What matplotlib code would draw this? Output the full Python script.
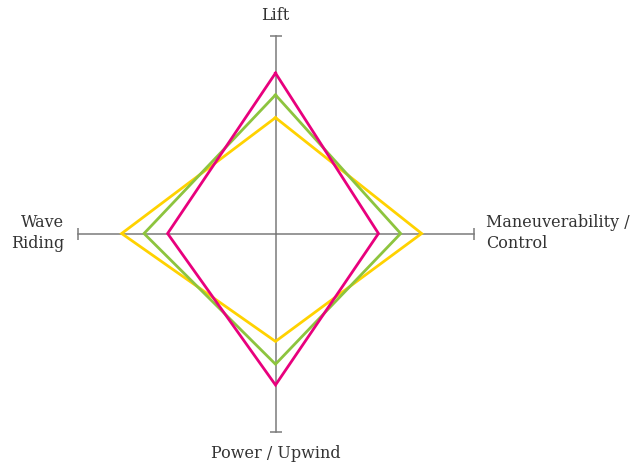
import numpy as np
import matplotlib
matplotlib.use("Agg")
import matplotlib.pyplot as plt

plt.rcParams["font.family"] = ["DejaVu Serif"]

axes_labels = ["Lift", "Maneuverability /\nControl", "Power / Upwind", "Wave\nRiding"]
series_yellow = [0.585, 0.738, 0.545, 0.777]
series_green = [0.70, 0.632, 0.66, 0.664]
series_magenta = [0.81, 0.52, 0.765, 0.545]
series = [(series_yellow, "#FFD200"), (series_green, "#8DC43E"), (series_magenta, "#E8007D")]

W, H = 644, 466
cx, cy, R = 275.5, 233.5, 198.0

fig = plt.figure(figsize=(W / 100, H / 100), dpi=100)
ax = fig.add_axes([(cx - R) / W, (H - cy - R) / H, 2 * R / W, 2 * R / H], projection="polar")
ax.set_theta_zero_location("N")
ax.set_theta_direction(-1)
ax.set_ylim(0, 1)
ax.grid(False)
ax.spines["polar"].set_visible(False)
ax.set_xticks([])
ax.set_yticks([])
ax.patch.set_alpha(0)

angles = np.linspace(0, 2 * np.pi, len(axes_labels), endpoint=False)

# crosshair axes with end caps
gray = "#7a7a7a"
for a in angles:
    ax.plot([a, a], [0, 1], color=gray, lw=1.1, zorder=1, clip_on=False)
caps = ["_", "|", "_", "|"]
for a, m in zip(angles, caps):
    ax.plot([a], [1], marker=m, color=gray, ms=9, mew=1.1, clip_on=False, zorder=1)

for vals, col in series:
    th = np.append(angles, angles[0])
    r = np.append(vals, vals[0])
    ax.plot(th, r, color=col, lw=2.0, zorder=3, solid_joinstyle="miter", clip_on=False)

tc = "#333333"
fs = 11.5
fig.text(cx / W, 1 - 16 / H, axes_labels[0], ha="center", va="center", fontsize=fs, color=tc)
fig.text(486 / W, 1 - 233 / H, axes_labels[1], ha="left", va="center", fontsize=fs, color=tc,
         multialignment="left", linespacing=1.3)
fig.text(cx / W, 1 - 453 / H, axes_labels[2], ha="center", va="center", fontsize=fs, color=tc)
fig.text(64 / W, 1 - 233 / H, axes_labels[3], ha="right", va="center", fontsize=fs, color=tc,
         multialignment="right", linespacing=1.3)

fig.savefig("out.png", dpi=100, facecolor="white")
